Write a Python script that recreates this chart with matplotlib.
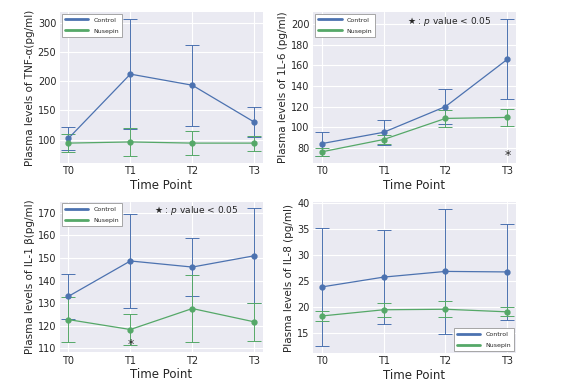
import numpy as np
import matplotlib
matplotlib.use("Agg")
import matplotlib.pyplot as plt
from matplotlib.ticker import MultipleLocator
from matplotlib.transforms import blended_transform_factory

time_points = ["T0", "T1", "T2", "T3"]

tnf_control = [102, 212, 193, 130]
tnf_control_err = [20, 94, 69, 25]
tnf_nusepin = [94, 96, 94, 94]
tnf_nusepin_err = [15, 24, 20, 13]

il6_control = [84, 95, 120, 166]
il6_control_err = [11.7, 12, 17, 39]
il6_nusepin = [76, 88, 108.5, 109.5]
il6_nusepin_err = [4, 4, 8, 8]

il1b_control = [133, 148.7, 146, 151]
il1b_control_err = [10, 21, 13, 21]
il1b_nusepin = [122.7, 118.3, 127.6, 121.7]
il1b_nusepin_err = [10, 7, 15, 8.5]

il8_control = [23.8, 25.7, 26.8, 26.7]
il8_control_err = [11.4, 9.1, 12, 9.2]
il8_nusepin = [18.2, 19.4, 19.5, 19.0]
il8_nusepin_err = [0.9, 1.3, 1.5, 0.85]

plt.style.use("seaborn-v0_8-darkgrid")
plt.rcParams["font.family"] = ["DejaVu Sans"]

blue = "#4C72B0"
green = "#55A868"

fig = plt.figure(figsize=(5.69, 3.84), dpi=100)
w, h = 0.357, 0.392
axes = [
    fig.add_axes([0.105, 0.576, w, h]),
    fig.add_axes([0.550, 0.576, w, h]),
    fig.add_axes([0.105, 0.083, w, h]),
    fig.add_axes([0.550, 0.081, w, h]),
]

panels = [
    (tnf_control, tnf_control_err, tnf_nusepin, tnf_nusepin_err,
     "Plasma levels of TNF-\u03b1(pg/ml)", "upper left", 50),
    (il6_control, il6_control_err, il6_nusepin, il6_nusepin_err,
     "Plasma levels of 1L-6 (pg/ml)", "upper left", 20),
    (il1b_control, il1b_control_err, il1b_nusepin, il1b_nusepin_err,
     "Plasma levels of IL-1 \u03b2(pg/ml)", "upper left", 10),
    (il8_control, il8_control_err, il8_nusepin, il8_nusepin_err,
     "Plasma levels of IL-8 (pg/ml)", "lower right", 5),
]

x = np.arange(len(time_points))
for ax, (c, ce, n, ne, ylab, loc, step) in zip(axes, panels):
    ax.errorbar(x, c, yerr=ce, color=blue, marker="o", markersize=3.5,
                linewidth=0.9, elinewidth=0.7, capsize=5, capthick=0.7,
                label="Control")
    ax.errorbar(x, n, yerr=ne, color=green, marker="o", markersize=3.5,
                linewidth=0.9, elinewidth=0.7, capsize=5, capthick=0.7,
                label="Nusepin")
    ax.set_xticks(x)
    ax.set_xticklabels(time_points)
    ax.set_xlim(-0.14, 3.14)
    ax.yaxis.set_major_locator(MultipleLocator(step))
    ax.tick_params(labelsize=7, colors="#262626", pad=2.5)
    ax.set_ylabel(ylab, fontsize=7.5, color="#262626", labelpad=2)
    ax.set_xlabel("Time Point", fontsize=8.5, color="#262626", labelpad=2)
    labels = ["Control", "Nusepin"]
    handles = [plt.Line2D([], [], color=blue, linewidth=2),
               plt.Line2D([], [], color=green, linewidth=2)]
    leg = ax.legend(handles, labels, loc=loc, fontsize=4.5, frameon=True,
                    fancybox=False, handlelength=3.8, borderpad=0.5,
                    labelspacing=0.9, borderaxespad=0.3)
    leg.get_frame().set_facecolor("white")
    leg.get_frame().set_edgecolor("#999999")
    leg.get_frame().set_linewidth(0.6)
    leg.get_frame().set_alpha(1)

axes[1].text(0.88, 0.985, "\u2605 : $p$ value < 0.05", transform=axes[1].transAxes,
             ha="right", va="top", fontsize=6.5, color="#262626")
axes[2].text(0.88, 0.985, "\u2605 : $p$ value < 0.05", transform=axes[2].transAxes,
             ha="right", va="top", fontsize=6.5, color="#262626")

tr1 = blended_transform_factory(axes[1].transData, axes[1].transAxes)
axes[1].text(3, 0.005, "*", transform=tr1, ha="center", va="bottom", fontsize=9)
tr2 = blended_transform_factory(axes[2].transData, axes[2].transAxes)
axes[2].text(1, 0.005, "*", transform=tr2, ha="center", va="bottom", fontsize=9)

fig.savefig("out.png", dpi=100)
